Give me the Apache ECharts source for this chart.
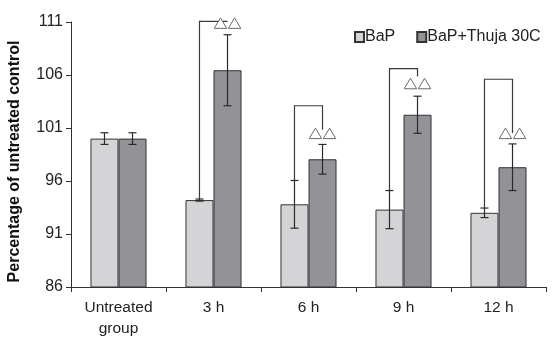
<!DOCTYPE html>
<html><head><meta charset="utf-8">
<script src="https://cdn.jsdelivr.net/npm/echarts@6/dist/echarts.min.js"></script>
<style>html,body{margin:0;padding:0;background:#fff}#c{width:555px;height:340px}</style>
</head><body><div id="c"></div>
<script>
// ---- data ----
const categories = ['Untreated\ngroup', '3 h', '6 h', '9 h', '12 h'];
const seriesNames = ['BaP', 'BaP+Thuja 30C'];
const bapMean = [100.0, 94.2, 93.8, 93.3, 93.0];
const bapErr = [0.55, 0.1, 2.25, 1.8, 0.45];
const thujaMean = [100.0, 106.45, 98.05, 102.25, 97.3];
const thujaErr = [0.55, 3.35, 1.4, 1.75, 2.2];
const yTicks = [86, 91, 96, 101, 106, 111];
// significance brackets: category index, bracket top, right-leg end, triangle baseline
const bracketCats = [1, 2, 3, 4];
const bracketTop = [111.05, 103.1, 106.6, 105.6];
const bracketRightEnd = [111.05, 100.84, 105.87, 100.53];
const triangleBase = [110.4, 100.0, 104.7, 100.0];

const FONT = '"Liberation Sans", Arial, sans-serif';
const BAR_RATIO = 0.295;
const chart = echarts.init(document.getElementById('c'), null, {renderer: 'canvas'});

function barCenter(api, cat, val, side) {
  const p = api.coord([cat, val]);
  const band = api.size([1, 0])[0];
  return [p[0] + side * band * BAR_RATIO / 2, p[1]];
}

function errSeries(means, errs, side) {
  return {
    type: 'custom', z: 5, silent: true,
    data: means.map((m, i) => [i, m - errs[i], m + errs[i]]),
    renderItem: (params, api) => {
      const i = api.value(0);
      const lo = barCenter(api, i, api.value(1), side);
      const hi = barCenter(api, i, api.value(2), side);
      const x = lo[0], c = 4;
      const st = {stroke: '#2a2a2a', lineWidth: 1.2};
      return {type: 'group', children: [
        {type: 'line', shape: {x1: x, y1: lo[1], x2: x, y2: hi[1]}, style: st},
        {type: 'line', shape: {x1: x - c, y1: lo[1], x2: x + c, y2: lo[1]}, style: st},
        {type: 'line', shape: {x1: x - c, y1: hi[1], x2: x + c, y2: hi[1]}, style: st}
      ]};
    }
  };
}

const bracketData = bracketCats.map((c, k) => [c, bracketTop[k], bapMean[c] + bapErr[c], bracketRightEnd[k], triangleBase[k]]);

option = {
  animation: false,
  textStyle: {fontFamily: FONT},
  grid: {left: 71, right: 9, top: 22, bottom: 53},
  legend: {
    data: seriesNames, left: 354, top: 29, padding: 0, icon: 'rect', itemWidth: 9, itemHeight: 10, itemGap: 21,
    textStyle: {fontFamily: FONT, fontSize: 16, color: '#222', padding: [0, 0, 0, -4]}
  },
  xAxis: {
    type: 'category', data: categories,
    axisLine: {lineStyle: {color: '#333', width: 1}},
    axisTick: {show: true, length: 5, lineStyle: {color: '#333'}},
    axisLabel: {fontFamily: FONT, fontSize: 15.5, color: '#222', margin: 10, lineHeight: 21}
  },
  yAxis: {
    type: 'value', min: yTicks[0], max: yTicks[yTicks.length - 1], interval: 5,
    axisLine: {show: true, lineStyle: {color: '#333', width: 1}},
    axisTick: {show: true, length: 5, lineStyle: {color: '#333'}},
    splitLine: {show: false},
    axisLabel: {fontFamily: FONT, fontSize: 16, color: '#222', margin: 8}
  },
  graphic: [{
    type: 'text', x: 15, y: 161.5, rotation: Math.PI / 2,
    style: {text: 'Percentage of untreated control', font: 'bold 16px ' + FONT, fill: '#111',
            textAlign: 'center', textVerticalAlign: 'middle'}
  }],
  series: [
    {name: seriesNames[0], type: 'bar', data: bapMean, barWidth: (BAR_RATIO * 100) + '%', barGap: '0%',
     itemStyle: {color: '#d4d4d6', borderColor: '#333', borderWidth: 1}},
    {name: seriesNames[1], type: 'bar', data: thujaMean, barWidth: (BAR_RATIO * 100) + '%', barGap: '0%',
     itemStyle: {color: '#939397', borderColor: '#333', borderWidth: 1}},
    errSeries(bapMean, bapErr, -1),
    errSeries(thujaMean, thujaErr, 1),
    {
      type: 'custom', z: 6, silent: true, clip: false,
      data: bracketData,
      renderItem: (params, api) => {
        const c = api.value(0);
        const top = barCenter(api, c, api.value(1), -1);
        const lb = barCenter(api, c, api.value(2), -1);
        const rt = barCenter(api, c, api.value(1), 1);
        const re = barCenter(api, c, api.value(3), 1);
        const tb = barCenter(api, c, api.value(4), 1);
        const h = 10.5, w = 12.5, g = 0.8;
        const yTop = tb[1] - h;
        const st = {stroke: '#3a3a3a', lineWidth: 1.2, fill: null};
        const triSt = {stroke: '#6a6a6a', lineWidth: 1, fill: '#fff'};
        const cx = tb[0];
        return {type: 'group', children: [
          {type: 'polyline', shape: {points: [[lb[0], lb[1]], [lb[0], top[1]], [rt[0], top[1]], [rt[0], re[1]]]}, style: st},
          {type: 'polygon', shape: {points: [[cx - g - w, tb[1]], [cx - g, tb[1]], [cx - g - w / 2, yTop]]}, style: triSt},
          {type: 'polygon', shape: {points: [[cx + g, tb[1]], [cx + g + w, tb[1]], [cx + g + w / 2, yTop]]}, style: triSt}
        ]};
      }
    }
  ]
};
chart.setOption(option);
</script></body></html>
